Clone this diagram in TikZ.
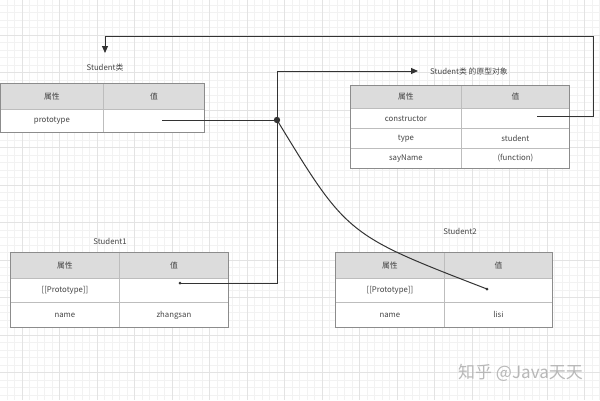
\documentclass[tikz,border=0pt]{standalone}
\usepackage{fontspec}
\setmainfont{Noto Sans CJK SC}
\usetikzlibrary{arrows.meta}
\definecolor{linec}{HTML}{333333}
\definecolor{cellline}{HTML}{BDBDBD}
\definecolor{outerline}{HTML}{8C8C8C}
\definecolor{hdrfill}{HTML}{DCDCDC}
\definecolor{txt}{HTML}{444444}
\tikzset{
  cellbase/.style={draw=cellline, line width=0.8pt, inner sep=0pt, font=\fontsize{7.8}{9}\selectfont, text=txt, anchor=north west},
  hdr/.style={fill=hdrfill},
  body/.style={fill=white},
  outer/.style={draw=outerline, line width=1pt},
  title/.style={font=\fontsize{7.8}{9}\selectfont, text=txt, inner sep=0pt},
  conn/.style={draw=linec, line width=1pt},
  tip/.style={-{Triangle[length=7pt,width=6pt]}},
  minorgrid/.style={draw=black!5, line width=0.5pt},
  majorgrid/.style={draw=black!11, line width=0.6pt},
}
% \mycell{name}{x1}{y1}{x2}{y2}{style}{text}
\newcommand{\mycell}[7]{%
  \pgfmathsetmacro{\cw}{#4-#2}\pgfmathsetmacro{\ch}{#5-#3}%
  \node[cellbase,#6,minimum width=\cw pt,minimum height=\ch pt] (#1) at (#2,#3) {#7};}
\begin{document}
\begin{tikzpicture}[x=1pt,y=-1pt]
\useasboundingbox (0,0) rectangle (600,400);
\fill[white] (0,0) rectangle (600,400);
\begin{scope}
\clip (0,0) rectangle (600,400);
\foreach \k in {-3,...,77} \draw[minorgrid] ({22+7.5*\k},0) -- ({22+7.5*\k},400);
\foreach \k in {-5,...,49} \draw[minorgrid] (0,{35+7.5*\k}) -- (600,{35+7.5*\k});
\foreach \k in {-1,...,16} \draw[majorgrid] ({22+37.5*\k},0) -- ({22+37.5*\k},400);
\foreach \k in {-1,...,10} \draw[majorgrid] (0,{35+37.5*\k}) -- (600,{35+37.5*\k});
\end{scope}

% Student class table
\node[title] (tA) at (105,68) {Student类};
\mycell{a11}{0}{83}{103}{109}{hdr}{属性}
\mycell{a12}{103}{83}{204}{109}{hdr}{值}
\mycell{a21}{0}{109}{103}{132}{body}{prototype}
\mycell{a22}{103}{109}{204}{132}{body}{}
\draw[outer] (a11.north west) rectangle (a22.south east);

% prototype object table
\node[title, anchor=west] (tB) at (430,72) {Student类 的原型对象};
\mycell{b11}{350}{85}{461}{108}{hdr}{属性}
\mycell{b12}{461}{85}{569}{108}{hdr}{值}
\mycell{b21}{350}{108}{461}{128}{body}{constructor}
\mycell{b22}{461}{108}{569}{128}{body}{}
\mycell{b31}{350}{128}{461}{148}{body}{type}
\mycell{b32}{461}{128}{569}{148}{body}{student}
\mycell{b41}{350}{148}{461}{168}{body}{sayName}
\mycell{b42}{461}{148}{569}{168}{body}{(function)}
\draw[outer] (b11.north west) rectangle (b42.south east);

% Student1 table
\node[title] (tC) at (110,241) {Student1};
\mycell{c11}{10}{252}{119}{278}{hdr}{属性}
\mycell{c12}{119}{252}{228}{278}{hdr}{值}
\mycell{c21}{10}{278}{119}{302}{body}{[[Prototype]]}
\mycell{c22}{119}{278}{228}{302}{body}{}
\mycell{c31}{10}{302}{119}{327}{body}{name}
\mycell{c32}{119}{302}{228}{327}{body}{zhangsan}
\draw[outer] (c11.north west) rectangle (c32.south east);

% Student2 table
\node[title] (tD) at (460,231) {Student2};
\mycell{d11}{335}{252}{444}{278}{hdr}{属性}
\mycell{d12}{444}{252}{552}{278}{hdr}{值}
\mycell{d21}{335}{278}{444}{302}{body}{[[Prototype]]}
\mycell{d22}{444}{278}{552}{302}{body}{}
\mycell{d31}{335}{302}{444}{327}{body}{name}
\mycell{d32}{444}{302}{552}{327}{body}{lisi}
\draw[outer] (d11.north west) rectangle (d32.south east);

% connector points
\coordinate (pA) at (162,120);
\coordinate (J) at (277,120);
\coordinate (pB) at (537,116);
\coordinate (kB) at (593,36);
\coordinate (arA) at (105,53);
\coordinate (arB) at (418,71);
\coordinate (pC) at (180,283);
\coordinate (pD) at (487,289);

\draw[conn,tip] (pB) -| (kB) -| (arA);
\draw[conn] (pA) -- (J);
\draw[conn,tip] (J) |- (arB);
\draw[conn] (pC) -| (J);
\draw[conn] (J) .. controls (347,235) .. (pD);
\fill[linec] (J) circle (3.2pt);
\fill[linec] (pC) circle (1.5pt);
\fill[linec] (pD) circle (1.5pt);

\node[font=\fontsize{17}{20}\selectfont, text=black!28, anchor=west, inner sep=0pt] (wm) at (458,373) {知乎 @Java天天};
\end{tikzpicture}
\end{document}
